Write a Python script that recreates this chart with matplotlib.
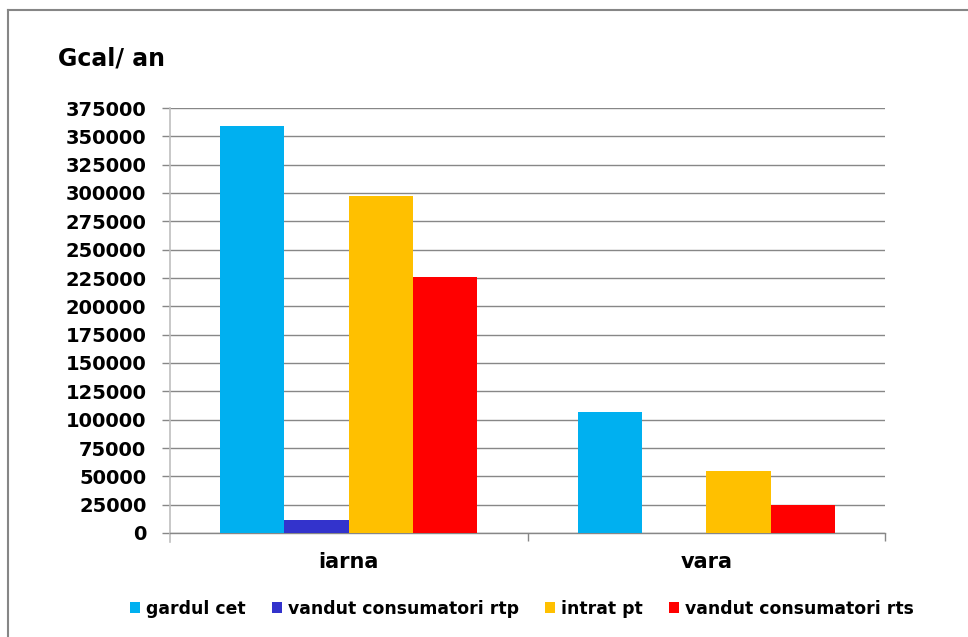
import matplotlib
matplotlib.use("Agg")
import matplotlib.pyplot as plt
from matplotlib.lines import Line2D
import numpy as np

categories = ["iarna", "vara"]
series_names = ["gardul cet", "vandut consumatori rtp", "intrat pt", "vandut consumatori rts"]
gardul_cet = [359000, 107000]
vandut_rtp = [11500, 0]
intrat_pt = [297000, 55000]
vandut_rts = [226000, 25000]
colors = ["#00B0F0", "#3333CC", "#FFC000", "#FF0000"]
yticks = list(range(0, 375001, 25000))

plt.rcParams['font.family'] = ['DejaVu Sans']
plt.rcParams['font.weight'] = 'bold'

W, H = 968, 637
fig = plt.figure(figsize=(W / 100, H / 100), dpi=100)
ax = fig.add_axes([170 / W, 1 - 533 / H, (885 - 170) / W, (533 - 108) / H])

x = np.arange(len(categories))
width = 0.18
all_series = [gardul_cet, vandut_rtp, intrat_pt, vandut_rts]
for i, (vals, name, c) in enumerate(zip(all_series, series_names, colors)):
    ax.bar(x + (i - 1.5) * width, vals, width, color=c, label=name, zorder=3)

ax.set_xlim(-0.5, 1.5)
ax.set_ylim(0, 375000)
ax.set_yticks(yticks)
ax.set_yticklabels([str(v) for v in yticks], fontsize=14, fontweight='bold')
ax.yaxis.grid(True, color="#878787", linewidth=1.0, zorder=0)
ax.set_axisbelow(True)

ax.set_xticks(x)
ax.set_xticklabels(categories, fontsize=15, fontweight='bold')
ax.tick_params(axis='x', which='major', length=0, pad=14)
ax.set_xticks([0.5, 1.5], minor=True)
ax.tick_params(axis='x', which='minor', length=6, color="#878787", width=1.0, direction='out')
ax.tick_params(axis='y', length=6, color="#878787", width=1.0, pad=11, direction='out')

for s in ['top', 'right']:
    ax.spines[s].set_visible(False)
ax.spines['left'].set_color("#BFBFBF")
ax.spines['left'].set_linewidth(1.2)
ax.spines['left'].set_bounds(-375000 * 9 / 425, 375000)
ax.spines['bottom'].set_color("#878787")
ax.spines['bottom'].set_linewidth(1.0)

fig.text(58 / W, 1 - 58 / H, "Gcal/ an", fontsize=17, fontweight='bold', ha='left', va='center')

handles, labels = ax.get_legend_handles_labels()
leg = fig.legend(handles, labels, loc='center', bbox_to_anchor=(522 / W, 1 - 609 / H), ncol=4,
                 frameon=False, handlelength=0.6, handleheight=0.6,
                 handletextpad=0.35, columnspacing=1.5, prop={'weight': 'bold', 'size': 12.4})

bx = 8 / W
by = 1 - 10 / H
fig.add_artist(Line2D([bx, bx], [-0.05, by], transform=fig.transFigure, color="#868686", linewidth=1.5))
fig.add_artist(Line2D([bx, 1.05], [by, by], transform=fig.transFigure, color="#868686", linewidth=1.5))

fig.savefig("out.png", dpi=100)
